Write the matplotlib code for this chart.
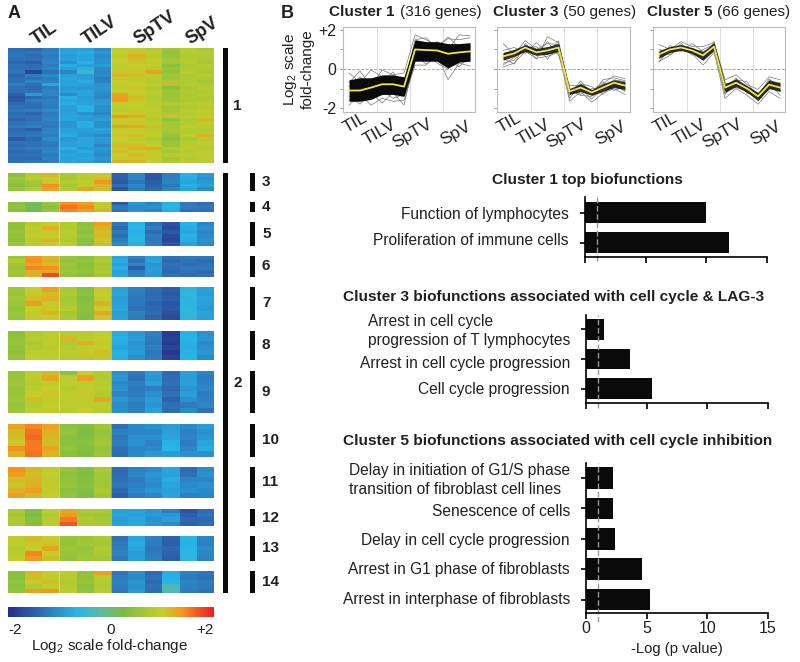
import numpy as np
import matplotlib
matplotlib.use('Agg')
import matplotlib.pyplot as plt
from matplotlib.colors import LinearSegmentedColormap, Normalize
from matplotlib.cm import ScalarMappable
from matplotlib.transforms import ScaledTranslation

plt.rcParams['font.family'] = ['Liberation Sans', 'DejaVu Sans']
plt.rcParams['mathtext.default'] = 'regular'
plt.rcParams['text.color'] = '#231f20'
plt.rcParams['axes.labelcolor'] = '#231f20'
plt.rcParams['xtick.labelcolor'] = '#231f20'
plt.rcParams['ytick.labelcolor'] = '#231f20'

#**** HEATMAP DATA (one list per gene group, 12 samples per row) ****
groups = ['TIL', 'TILV', 'SpTV', 'SpV']

heat_1 = [
    [-1.35,-1.4,-1.2,-0.85,-0.85,-1.05,0.95,1.0,0.85,0.6,0.85,0.75],
    [-1.3,-1.25,-1.15,-0.8,-0.75,-0.95,1.0,1.05,0.9,0.5,0.85,0.85],
    [-1.25,-1.35,-1.2,-0.9,-0.8,-1.05,0.9,1.2,0.85,0.55,0.8,0.8],
    [-1.3,-1.3,-1.15,-0.85,-0.8,-1.0,1.0,1.1,0.95,0.65,0.85,0.75],
    [-1.4,-1.5,-1.1,-1.0,-0.7,-1.0,1.0,1.05,0.95,0.7,0.85,0.7],
    [-1.3,-1.35,-1.2,-0.75,-0.85,-0.9,0.9,1.0,0.95,0.4,0.75,0.85],
    [-1.3,-1.3,-1.1,-0.85,-0.7,-1.05,0.95,1.0,0.85,0.55,0.8,0.8],
    [-1.25,-1.75,-1.3,-1.1,-0.5,-1.1,1.05,1.05,1.3,0.5,0.85,0.75],
    [-1.4,-1.2,-1.05,-0.85,-0.9,-1.05,1.15,1.1,0.9,0.65,0.75,0.85],
    [-1.35,-1.3,-1.2,-0.8,-0.85,-1.2,0.95,0.95,0.85,0.6,0.8,0.75],
    [-1.3,-1.1,-1.15,-0.85,-0.75,-1.15,1.0,0.95,0.85,0.75,0.8,0.7],
    [-1.15,-1.3,-0.8,-0.8,-0.85,-1.0,1.05,1.0,0.95,1.15,0.85,0.8],
    [-1.3,-1.4,-1.2,-0.9,-0.95,-0.95,0.95,1.05,0.8,0.45,0.75,0.85],
    [-1.35,-1.3,-1.1,-0.85,-0.8,-1.0,1.0,1.0,0.9,0.6,0.8,0.8],
    [-1.5,-0.9,-1.1,-1.05,-0.8,-1.05,1.3,1.05,0.9,0.55,0.75,0.85],
    [-1.6,-1.4,-1.25,-0.7,-0.9,-1.1,1.3,1.1,0.8,0.6,0.8,0.75],
    [-1.55,-1.2,-1.15,-0.8,-0.85,-0.95,1.35,1.05,0.85,0.65,0.75,0.8],
    [-1.4,-1.3,-1.15,-0.75,-0.8,-0.9,1.0,1.0,0.85,0.8,0.85,0.9],
    [-1.3,-1.35,-1.2,-0.85,-0.7,-1.0,0.95,1.0,0.9,0.7,0.8,0.85],
    [-1.25,-1.2,-1.05,-0.9,-0.7,-1.0,0.9,0.95,0.95,0.7,0.85,0.95],
    [-1.35,-1.45,-1.2,-0.85,-1.0,-1.1,1.0,1.05,0.9,0.75,0.85,0.9],
    [-1.3,-1.3,-1.15,-0.8,-0.85,-0.95,1.35,1.2,0.95,1.1,0.9,1.0],
    [-1.45,-1.35,-1.1,-0.8,-0.9,-0.85,1.05,1.0,0.85,0.5,0.8,1.15],
    [-1.3,-1.25,-1.2,-0.95,-0.75,-1.0,0.95,1.05,0.9,0.65,0.85,0.95],
    [-1.2,-1.15,-1.25,-0.95,-0.75,-1.0,1.3,1.2,1.1,0.65,0.95,0.9],
    [-1.4,-1.5,-1.15,-0.85,-0.85,-0.8,0.95,1.05,0.9,0.75,0.85,0.8],
    [-1.35,-1.3,-1.1,-0.8,-0.9,-0.9,1.0,1.0,0.95,0.7,0.8,0.85],
    [-1.3,-1.25,-1.2,-0.75,-0.95,-1.05,1.05,1.1,1.0,0.55,0.9,1.2],
    [-1.55,-1.4,-1.05,-0.95,-0.8,-0.9,1.0,0.95,0.8,0.45,0.75,0.85],
    [-1.3,-1.3,-1.2,-0.85,-0.8,-0.95,0.95,1.0,0.9,0.6,0.85,0.95],
    [-1.35,-1.3,-1.25,-0.85,-0.8,-1.1,1.1,1.1,1.0,0.6,0.9,0.9],
    [-1.25,-1.2,-1.15,-0.7,-0.9,-0.95,1.05,1.2,1.25,0.8,1.05,0.85],
    [-1.4,-1.35,-1.1,-0.9,-0.75,-1.0,1.1,1.0,0.95,0.65,0.85,0.95],
    [-1.3,-1.3,-1.2,-0.8,-0.85,-1.05,1.0,1.1,1.05,0.85,0.9,0.95],
    [-1.35,-1.4,-1.15,-0.85,-0.8,-0.95,1.05,1.05,0.95,0.7,0.85,0.9],
    [-1.3,-1.25,-1.2,-0.8,-0.85,-1.0,1.2,1.15,1.0,0.75,0.9,0.85],
]
heat_3 = [
    [0.45,0.85,1.15,0.75,0.9,1.05,-1.45,-1.1,-1.55,-1.2,-0.7,-0.9],
    [0.6,0.95,1.0,0.7,0.85,1.1,-1.5,-1.15,-1.6,-1.15,-0.75,-1.0],
    [0.5,0.7,1.05,0.85,0.9,1.35,-1.55,-1.25,-1.5,-1.1,-0.8,-0.95],
    [0.4,0.6,1.4,0.7,0.95,1.15,-1.35,-1.05,-1.45,-1.25,-0.7,-0.85],
    [0.55,0.8,1.3,0.8,1.25,1.1,-1.6,-1.2,-1.4,-1.1,-0.8,-1.05],
]
heat_4 = [
    [0.45,0.15,0.6,1.4,1.3,0.95,-1.55,-0.95,-1.1,-0.7,-1.25,-1.35],
    [0.5,0.15,0.45,1.55,1.45,1.05,-1.2,-1.05,-1.0,-0.65,-1.2,-1.25],
    [0.4,0.2,0.55,1.45,1.3,1.2,-1.3,-1.0,-1.1,-0.75,-1.3,-1.3],
]
heat_5 = [
    [0.5,0.85,1.0,0.85,0.45,1.3,-1.25,-0.65,-1.3,-1.6,-0.7,-1.1],
    [0.45,0.95,1.2,0.8,0.5,1.2,-1.4,-0.6,-1.15,-1.7,-0.75,-1.0],
    [0.55,0.9,1.05,0.9,0.4,1.1,-1.25,-0.7,-1.35,-1.55,-0.8,-1.1],
    [0.5,1.0,1.0,0.85,0.55,1.15,-1.35,-0.65,-1.2,-1.7,-0.7,-1.05],
    [0.45,0.85,1.15,0.8,0.4,1.05,-1.2,-0.6,-1.25,-1.75,-0.75,-1.0],
    [0.55,0.9,1.0,0.9,0.45,1.1,-1.1,-0.7,-1.2,-1.6,-0.85,-1.05],
]
heat_6 = [
    [0.6,1.35,1.15,0.55,0.45,0.75,-0.8,-1.15,-0.85,-1.3,-1.25,-1.25],
    [0.85,1.4,1.2,0.5,0.5,0.8,-0.75,-1.3,-0.8,-1.4,-1.3,-1.35],
    [0.65,1.25,1.1,0.6,0.4,0.7,-0.85,-1.1,-0.95,-1.3,-1.35,-1.3],
    [0.55,1.45,1.4,0.55,0.45,0.75,-0.75,-1.5,-0.9,-1.35,-1.25,-1.25],
    [0.7,1.2,1.25,0.6,0.5,0.8,-0.85,-1.2,-0.9,-1.4,-1.3,-1.4],
    [0.6,1.2,1.75,0.5,0.4,0.7,-0.8,-1.15,-0.95,-1.3,-1.35,-1.3],
]
heat_7 = [
    [0.6,1.0,1.3,0.75,0.4,1.05,-0.85,-1.15,-1.35,-1.5,-0.6,-0.85],
    [0.55,0.95,1.1,0.8,0.45,1.0,-0.8,-1.2,-1.4,-1.55,-0.55,-0.9],
    [0.65,1.1,1.2,0.7,0.35,0.95,-0.9,-1.25,-1.35,-1.5,-0.6,-0.8],
    [0.6,1.3,1.05,0.75,0.4,1.2,-0.85,-1.25,-1.45,-1.6,-0.65,-0.85],
    [0.5,1.0,1.05,0.85,0.45,1.0,-0.8,-1.3,-1.4,-1.55,-0.6,-0.9],
    [0.6,0.95,1.15,0.7,0.4,1.25,-0.9,-1.15,-1.35,-1.65,-0.55,-0.8],
    [0.55,1.05,1.0,0.75,0.35,1.05,-0.85,-1.2,-1.45,-1.7,-0.6,-0.85],
]
heat_8 = [
    [0.45,0.8,0.9,0.85,0.85,0.95,-0.75,-0.95,-1.15,-1.85,-0.7,-1.0],
    [0.5,0.85,0.9,1.15,0.9,1.0,-0.7,-0.9,-1.2,-1.8,-0.65,-0.95],
    [0.55,0.75,0.95,0.8,1.2,0.95,-0.75,-1.0,-1.25,-1.85,-0.7,-1.05],
    [0.5,0.8,0.85,0.85,0.95,1.0,-0.8,-0.95,-1.15,-1.75,-0.75,-1.0],
    [0.45,0.9,0.9,0.9,1.05,1.1,-0.7,-0.9,-1.25,-1.9,-0.7,-0.95],
    [0.55,1.0,0.95,0.85,0.85,0.9,-0.75,-1.0,-1.2,-1.8,-0.65,-1.05],
]
heat_9 = [
    [0.55,0.9,1.1,0.45,1.0,0.85,-1.0,-1.2,-0.9,-1.4,-0.85,-1.1],
    [0.6,0.95,1.25,0.9,1.3,0.8,-0.95,-1.3,-0.95,-1.35,-0.9,-1.2],
    [0.65,0.85,0.95,0.95,0.9,0.85,-1.05,-1.15,-0.85,-1.3,-0.85,-1.15],
    [0.55,0.9,1.0,0.85,0.95,0.9,-1.0,-1.25,-1.15,-1.4,-0.95,-1.1],
    [0.6,1.0,1.05,0.95,1.05,0.8,-1.1,-1.2,-1.0,-1.3,-0.85,-1.2],
    [0.65,1.1,0.95,0.9,0.9,1.25,-0.95,-1.1,-0.9,-1.45,-1.0,-1.15],
    [0.55,0.85,1.0,0.95,0.95,0.9,-1.05,-1.2,-0.95,-1.3,-1.2,-1.1],
    [0.6,0.9,0.95,0.85,1.0,0.85,-1.0,-1.15,-0.85,-1.35,-1.05,-1.3],
]
heat_10 = [
    [1.25,1.45,1.25,0.45,0.35,0.65,-1.3,-1.05,-1.0,-0.9,-1.05,-0.9],
    [1.15,1.55,1.2,0.5,0.3,0.55,-1.15,-1.1,-1.1,-0.85,-1.15,-1.0],
    [1.1,1.6,1.15,0.4,0.35,0.6,-1.25,-1.0,-1.0,-0.8,-1.1,-0.95],
    [1.05,1.5,1.1,0.45,0.4,0.65,-1.2,-1.0,-1.15,-0.7,-1.2,-0.8],
    [1.4,1.5,1.25,0.5,0.35,0.55,-1.3,-1.1,-1.05,-0.65,-1.1,-0.75],
    [1.2,1.55,1.2,0.4,0.3,0.6,-1.35,-1.05,-0.95,-0.9,-1.0,-1.0],
]
heat_11 = [
    [1.4,1.15,0.95,0.55,0.35,0.75,-1.4,-1.15,-1.05,-0.8,-1.35,-1.05],
    [1.3,1.1,1.0,0.45,0.3,0.7,-1.35,-1.1,-0.95,-0.85,-1.3,-1.0],
    [1.1,1.15,0.9,0.5,0.35,0.65,-1.3,-1.2,-1.0,-0.75,-1.1,-1.1],
    [1.05,1.2,0.95,0.55,0.4,0.7,-1.25,-1.15,-1.05,-0.8,-1.05,-1.0],
    [1.2,1.3,0.95,0.45,0.35,0.75,-1.4,-1.1,-0.95,-0.85,-1.0,-1.05],
    [1.3,1.15,1.0,0.5,0.3,0.65,-1.5,-1.2,-1.1,-0.8,-1.15,-1.1],
]
heat_12 = [
    [0.75,0.35,0.95,1.25,0.75,0.75,-0.85,-0.8,-0.95,-1.2,-1.6,-1.35],
    [0.7,0.3,0.8,1.35,0.7,0.65,-0.8,-0.85,-0.9,-0.95,-1.5,-1.3],
    [0.8,0.4,0.85,1.5,0.8,0.7,-0.9,-0.8,-1.0,-0.85,-1.4,-1.4],
    [0.75,0.35,0.9,1.7,0.75,0.75,-0.85,-0.75,-0.95,-1.05,-1.45,-1.35],
]
heat_13 = [
    [0.9,1.1,1.0,0.55,0.6,0.75,-1.3,-0.8,-1.15,-1.45,-0.65,-1.1],
    [0.95,1.05,1.05,0.5,0.65,0.7,-1.25,-0.75,-1.2,-1.5,-0.7,-1.15],
    [0.85,1.0,1.25,0.6,0.55,0.8,-1.2,-0.8,-1.25,-1.4,-0.65,-1.05],
    [0.9,1.45,1.0,0.55,0.6,0.75,-1.15,-0.9,-1.2,-1.45,-0.6,-1.1],
    [0.95,1.35,1.1,0.5,0.65,0.7,-1.25,-0.85,-1.15,-1.5,-0.6,-1.15],
]
heat_14 = [
    [0.45,1.15,1.0,0.9,0.5,1.3,-1.25,-1.0,-1.4,-0.75,-1.15,-1.25],
    [0.4,1.1,0.95,0.85,0.5,0.9,-1.2,-1.05,-1.3,-0.7,-1.2,-1.3],
    [0.5,1.0,1.1,0.8,0.55,0.85,-1.15,-0.95,-1.4,-0.65,-1.1,-1.2],
    [0.45,0.8,0.95,0.85,0.45,0.8,-1.2,-1.0,-1.3,-0.35,-1.15,-1.25],
    [0.5,1.3,1.35,0.9,0.5,0.85,-1.25,-0.95,-1.35,-0.3,-1.2,-1.3],
]

heat_blocks = [heat_1, heat_3, heat_4, heat_5, heat_6, heat_7, heat_8, heat_9,
               heat_10, heat_11, heat_12, heat_13, heat_14]
block_names = ['1', '3', '4', '5', '6', '7', '8', '9', '10', '11', '12', '13', '14']
block_top = [48, 173, 202, 222, 256, 287, 331, 371, 424, 467, 509, 536, 571]
block_bottom = [163, 191, 212, 246, 277, 320, 360, 413, 457, 498, 526, 561, 593]

cmap_values = [-2, -1.3, -0.66, -0.2, 0.24, 1.0, 1.38, 2]
cmap_colors = ['#262f86', '#2f72b8', '#27b5e8', '#5fb9a0', '#78bd45', '#c4cf2b', '#f6951f', '#ed1c24']

#**** CLUSTER PROFILES ****
cluster_titles = ['Cluster 1', 'Cluster 3', 'Cluster 5']
cluster_sizes = ['(316 genes)', '(50 genes)', '(66 genes)']

mean_1 = [-1.1,-1.1,-0.95,-0.78,-0.78,-0.9,1.0,0.97,0.95,0.78,0.85,0.9]
low_1 = [-1.65,-1.65,-1.55,-1.3,-1.3,-1.4,0.4,0.4,0.4,0.05,0.35,0.4]
high_1 = [-0.55,-0.45,-0.45,-0.3,-0.3,-0.4,1.5,1.4,1.4,1.3,1.3,1.35]
lines_1 = [
    [-0.2,-0.7,-0.05,-0.4,-0.6,-0.7,1.2,1.1,1.4,1.0,1.75,1.7],
    [-1.85,-1.3,-1.85,-1.5,-1.65,-1.6,0.2,0.2,0.75,-0.55,0.3,0.15],
    [-0.7,-0.1,-0.9,-0.05,-0.3,-0.2,1.75,1.5,1.2,1.55,1.5,1.6],
    [-1.4,-1.8,-1.2,-1.75,-1.2,-1.85,0.7,0.25,0.6,0.55,0.1,0.7],
    [-0.9,-0.4,-1.1,-0.7,-0.15,-1.0,1.5,1.6,1.05,1.65,1.1,1.15],
    [-1.6,-1.2,-0.6,-1.1,-1.5,-1.3,0.5,0.9,0.3,0.0,0.65,0.5],
]
mean_3 = [0.65,0.8,1.1,0.85,0.95,1.1,-1.15,-0.95,-1.2,-0.95,-0.7,-0.85]
low_3 = [0.45,0.65,0.9,0.7,0.75,0.9,-1.3,-1.15,-1.35,-1.15,-0.95,-1.05]
high_3 = [0.85,1.0,1.25,1.05,1.15,1.3,-1.0,-0.75,-1.05,-0.75,-0.55,-0.65]
lines_3 = [
    [1.3,0.75,1.45,1.0,1.3,1.25,-1.35,-0.6,-1.3,-0.75,-0.35,-0.5],
    [0.1,0.3,0.9,0.55,0.65,0.85,-1.65,-1.15,-1.7,-1.25,-1.0,-1.3],
    [0.3,0.45,1.2,0.5,1.65,1.35,-1.0,-1.3,-1.0,-1.05,-0.55,-0.65],
    [0.95,1.1,0.8,1.35,0.85,1.45,-1.2,-1.0,-1.55,-0.9,-0.85,-1.1],
    [0.55,0.25,1.3,0.7,1.4,0.7,-0.85,-0.85,-1.15,-0.65,-1.1,-0.9],
    [0.2,0.6,1.05,1.15,0.5,1.2,-1.5,-0.75,-0.9,-1.3,-0.7,-1.15],
    [0.75,0.95,1.15,0.9,1.0,1.0,-1.1,-1.35,-1.4,-0.55,-0.45,-0.6],
]
mean_5 = [0.75,1.0,1.1,0.95,0.7,1.15,-0.95,-0.7,-1.0,-1.4,-0.8,-0.95]
low_5 = [0.55,0.85,0.95,0.8,0.45,0.95,-1.2,-0.9,-1.2,-1.6,-1.0,-1.15]
high_5 = [0.95,1.15,1.25,1.1,0.9,1.35,-0.75,-0.5,-0.85,-1.2,-0.55,-0.7]
lines_5 = [
    [1.25,1.0,1.4,1.15,1.15,1.35,-0.55,-0.3,-0.8,-1.05,-0.4,-0.55],
    [0.4,0.7,1.15,0.8,0.2,0.85,-1.5,-1.0,-1.35,-1.8,-1.15,-1.5],
    [0.55,1.2,0.9,1.3,0.9,1.1,-1.3,-0.55,-0.65,-1.5,-0.5,-1.1],
    [1.0,0.85,1.3,0.85,0.45,1.4,-0.7,-0.95,-1.1,-1.65,-0.9,-0.7],
    [0.35,1.1,1.05,1.05,0.75,1.0,-1.1,-0.45,-1.25,-1.25,-0.65,-1.35],
    [0.85,0.75,1.2,0.7,1.0,1.25,-0.85,-0.8,-0.9,-1.45,-1.05,-0.85],
]
cluster_means = [mean_1, mean_3, mean_5]
cluster_lows = [low_1, low_3, low_5]
cluster_highs = [high_1, high_3, high_5]
cluster_lines = [lines_1, lines_3, lines_5]
band_alpha = [1.0, 0.85, 0.85]

#**** BIOFUNCTIONS ****
bio_title_1 = 'Cluster 1 top biofunctions'
bio_labels_1 = ['Proliferation of immune cells', 'Function of lymphocytes']
bio_values_1 = [11.9, 10.0]
bio_title_3 = 'Cluster 3 biofunctions associated with cell cycle & LAG-3'
bio_labels_3 = ['Cell cycle progression', 'Arrest in cell cycle progression',
                'Arrest in cell cycle\nprogression of T lymphocytes']
bio_values_3 = [5.4, 3.6, 1.5]
bio_title_5 = 'Cluster 5 biofunctions associated with cell cycle inhibition'
bio_labels_5 = ['Arrest in interphase of fibroblasts', 'Arrest in G1 phase of fibroblasts',
                'Delay in cell cycle progression', 'Senescence of cells',
                'Delay in initiation of G1/S phase\ntransition of fibroblast cell lines']
bio_values_5 = [5.25, 4.6, 2.4, 2.25, 2.25]
threshold = 0.95

W, H = 800, 662
fig = plt.figure(figsize=(W/100, H/100), dpi=100)


def box(left, top, right, bottom):
    return fig.add_axes([left/W, 1-bottom/H, (right-left)/W, (bottom-top)/H])


def label(x, y, s, **kw):
    kw.setdefault('va', 'center')
    fig.text(x/W, 1-y/H, s, **kw)


def bar(left, top, right, bottom):
    ax = box(left, top, right, bottom)
    ax.set_facecolor('#0a0a0a')
    ax.set_xticks([])
    ax.set_yticks([])
    for s in ax.spines.values():
        s.set_visible(False)


def shift(text, dx, dy):
    text.set_transform(text.get_transform() + ScaledTranslation(dx/100, dy/100, fig.dpi_scale_trans))


#****** PANEL A ****************************************************************************
cmap = LinearSegmentedColormap.from_list('fc', [((v+2)/4, c) for v, c in zip(cmap_values, cmap_colors)])
norm = Normalize(-2, 2)

for i in range(len(heat_blocks)):
    ax = box(8, block_top[i], 214, block_bottom[i])
    ax.imshow(np.array(heat_blocks[i]), cmap=cmap, norm=norm, aspect='auto', interpolation='nearest')
    ax.axvline(2.5, color='white', lw=0.6, alpha=0.4)
    ax.axvline(5.5, color='white', lw=0.6, alpha=0.4)
    ax.set_yticks([])
    for s in ax.spines.values():
        s.set_visible(False)
    if i == 0:
        ax.xaxis.tick_top()
        ax.set_xticks([1, 4, 7, 10])
        ax.set_xticklabels(groups, rotation=34, ha='left', rotation_mode='anchor',
                           fontsize=13, fontweight='bold')
        ax.tick_params(axis='x', length=0, pad=2)
        for t in ax.get_xticklabels():
            shift(t, 4, -3)
    else:
        ax.set_xticks([])
    if i > 0:
        bar(250, block_top[i], 255, block_bottom[i])
        label(262, (block_top[i]+block_bottom[i])/2, block_names[i], fontsize=11, fontweight='bold')

bar(223, 48, 228, 163)
bar(223, 173, 228, 593)
label(233, 106, '1', fontsize=11, fontweight='bold')
label(233, 383, '2', fontsize=11, fontweight='bold')
label(8, 14, 'A', fontsize=13, fontweight='bold')
label(281, 14, 'B', fontsize=13, fontweight='bold')

cax = box(8, 607, 214, 617)
cb = fig.colorbar(ScalarMappable(norm=norm, cmap=cmap), cax=cax, orientation='horizontal')
cb.outline.set_visible(False)
cb.set_ticks([-2, 0, 2])
cb.set_ticklabels(['-2', '0', '+2'], fontsize=11)
cax.tick_params(length=0, pad=4)
cax.get_xticklabels()[0].set_ha('left')
cax.get_xticklabels()[2].set_ha('right')
label(110, 646, 'Log$_2$ scale fold-change', ha='center', fontsize=11)

#****** PANEL B TOP ****************************************************************************
panel_left = [343, 497, 653]
panel_right = [475, 630, 785]
title_x = [329, 493, 647]
size_x = [400, 563, 717]
sample_x = np.arange(12)
xlabel_shift = [(2, 6), (-2, -1), (1, 0), (7, -2)]

for i in range(3):
    ax = box(panel_left[i], 27, panel_right[i], 112)
    for row in cluster_lines[i]:
        ax.plot(sample_x, row, color='#777777', lw=0.5, zorder=2)
    ax.fill_between(sample_x, cluster_lows[i], cluster_highs[i], color='#0a0a0a', lw=0, alpha=band_alpha[i], zorder=3)
    ax.plot(sample_x, cluster_means[i], color='#f2e63a', lw=1.3, zorder=4)
    ax.axhline(0, color='#999999', lw=0.6, ls='--', zorder=0)
    ax.set_xlim(-0.55, 11.45)
    ax.set_ylim(-2.2, 2.15)
    ax.set_xticks([1, 4, 7, 10])
    ax.set_xticklabels(groups, rotation=30, ha='right', rotation_mode='anchor', fontsize=12.5)
    ax.set_xticks([2.5, 5.5, 8.5], minor=True)
    ax.grid(which='minor', axis='x', color='#dddddd', lw=0.7)
    ax.tick_params(axis='x', which='both', length=0, pad=3)
    for t, d in zip(ax.get_xticklabels(), xlabel_shift):
        shift(t, d[0], d[1])
    ax.set_yticks([-2, -1, 0, 1, 2])
    ax.tick_params(axis='y', length=2, width=0.6, color='#888888', pad=3)
    if i == 0:
        ax.set_yticklabels(['-2', '', '0', '', '+2'], fontsize=11.5)
    else:
        ax.set_yticklabels([])
    for s in ax.spines.values():
        s.set_color('#bbbbbb')
        s.set_linewidth(0.8)
    label(title_x[i], 12, cluster_titles[i], fontsize=11, fontweight='bold')
    label(size_x[i], 12, cluster_sizes[i], fontsize=11)

label(290, 69, 'Log$_2$ scale', rotation=90, ha='center', fontsize=11)
label(308, 69, 'fold-change', rotation=90, ha='center', fontsize=11)

#****** PANEL B BARS ****************************************************************************
bio_labels = [bio_labels_1, bio_labels_3, bio_labels_5]
bio_values = [bio_values_1, bio_values_3, bio_values_5]
bio_titles = [bio_title_1, bio_title_3, bio_title_5]
bio_box = [(585, 197, 767, 257), (586, 315, 768, 403), (586, 463, 768, 613)]
bio_ylim = [(-0.48, 1.52), (-0.49, 2.49), (-0.44, 4.49)]
bio_title_pos = [(587.5, 180), (554, 297), (558, 441)]
bio_height = [0.72, 0.7, 0.71]
bio_label_shift = [[4, 0], [1, -3, 2], [2, 1, 0, -2, 1]]

for i in range(3):
    ax = box(*bio_box[i])
    y = np.arange(len(bio_values[i]))
    ax.barh(y, bio_values[i], height=bio_height[i], color='#0a0a0a')
    ax.axvline(threshold, ymin=-0.06, color='#999999', lw=1, ls=(0, (4, 2)), clip_on=False)
    ax.set_xlim(0, 15)
    ax.set_ylim(*bio_ylim[i])
    ax.set_yticks(y)
    ax.set_yticklabels(bio_labels[i], fontsize=11.2, ma='left', linespacing=1.3)
    ax.tick_params(axis='y', length=3.6, width=1.2, pad=8)
    for t, d in zip(ax.get_yticklabels(), bio_label_shift[i]):
        shift(t, 0, d)
    ax.set_xticks([0, 5, 10, 15])
    ax.tick_params(axis='x', length=4, width=1.2, pad=2)
    if i < 2:
        ax.set_xticklabels([])
    else:
        ax.set_xticklabels(['0', '5', '10', '15'], fontsize=11.5)
        ax.set_xlabel('-Log (p value)', fontsize=10.7, labelpad=4)
    ax.spines['top'].set_visible(False)
    ax.spines['right'].set_visible(False)
    ax.spines['left'].set_linewidth(1.2)
    ax.spines['bottom'].set_linewidth(1.2)
    label(bio_title_pos[i][0], bio_title_pos[i][1], bio_titles[i], ha='center', fontsize=11.1, fontweight='bold')

plt.savefig('out.png', dpi=100)
